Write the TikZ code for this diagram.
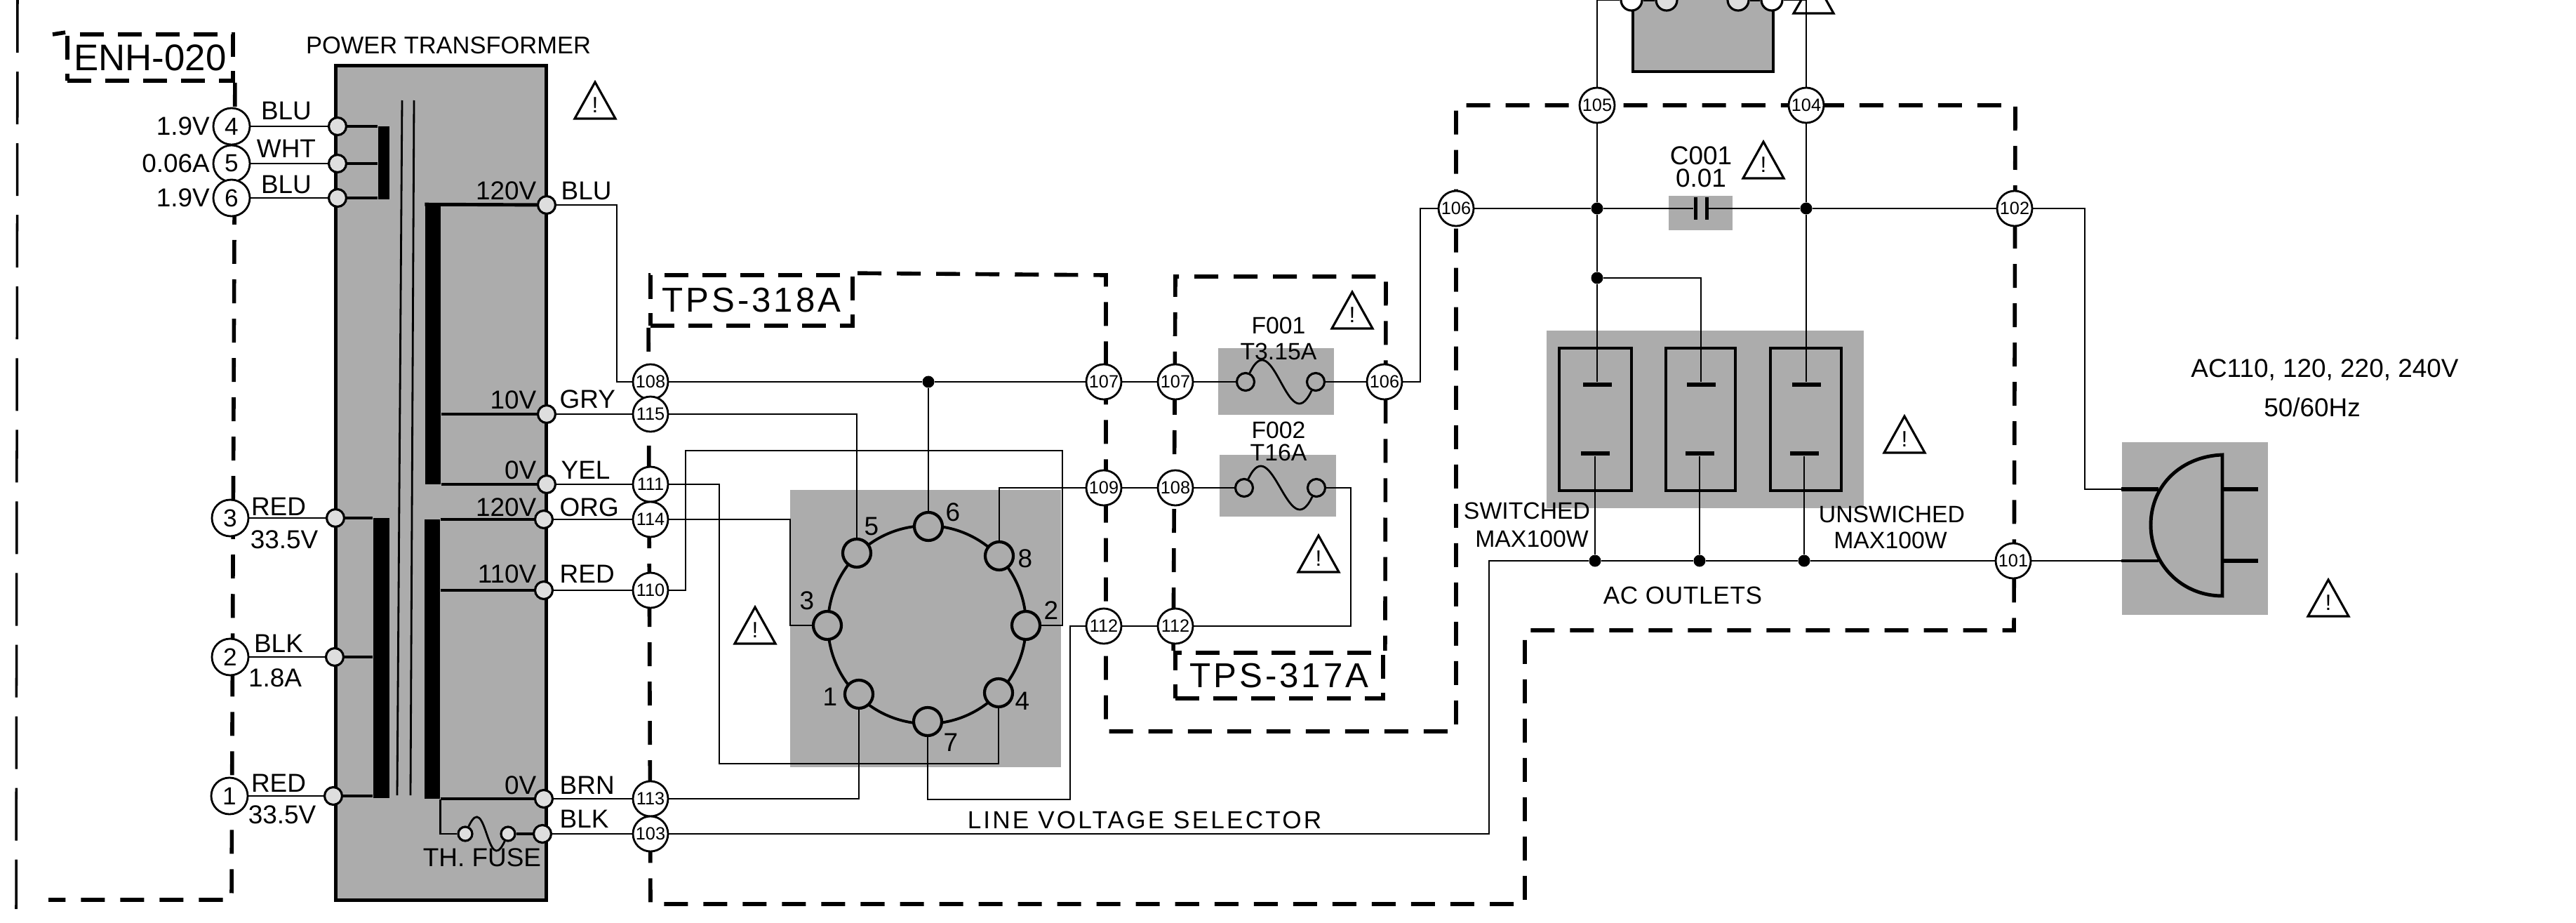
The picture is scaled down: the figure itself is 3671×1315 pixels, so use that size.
\documentclass[tikz,border=0pt]{standalone}
\usepackage{fontspec}
\setmainfont{Liberation Sans}
\usepackage{xcolor}
\usetikzlibrary{positioning, shapes.geometric}
\definecolor{PanelGray}{RGB}{172,172,172}
\definecolor{LugGray}{RGB}{222,222,222}

\begin{document}
\begin{tikzpicture}[
    x=0.01cm, y=-0.01cm,
    panel/.style={rectangle, fill=PanelGray, inner sep=0pt},
    winding/.style={rectangle, fill=black, inner sep=0pt},
    plate/.style={rectangle, fill=black, inner sep=0pt},
    outlet/.style={rectangle, draw=black, line width=1.1pt, minimum width=1pt, minimum height=2.03cm, inner sep=0pt},
    frame/.style={line width=1.6pt, dash pattern=on 0.34cm off 0.22cm},
    outer/.style={line width=1pt, dash pattern=on 0.75cm off 0.27cm},
    tag/.style={rectangle, draw=black, line width=1.6pt, dash pattern=on 0.34cm off 0.2cm, inner sep=0pt},
    wire/.style={line width=0.8pt},
    lead/.style={line width=1.4pt},
    conn/.style={circle, draw=black, fill=white, line width=0.8pt, minimum size=0.5cm, inner sep=0pt, font=\fontsize{7.2}{8}\selectfont},
    bigconn/.style={circle, draw=black, fill=white, line width=0.8pt, minimum size=0.52cm, inner sep=0pt, font=\fontsize{10}{12}\selectfont},
    lug/.style={circle, draw=black, fill=LugGray, line width=0.9pt, minimum size=0.25cm, inner sep=0pt},
    contact/.style={circle, draw=black, fill=PanelGray, line width=1.2pt, minimum size=0.4cm, inner sep=0pt},
    dot/.style={circle, fill=black, minimum size=0.17cm, inner sep=0pt},
    lbl/.style={inner sep=0pt, font=\fontsize{10.5}{12}\selectfont},
    thinlbl/.style={inner sep=0pt, font=\fontsize{9.6}{12}\selectfont},
    boardname/.style={font=\fontsize{14}{16}\selectfont\addfontfeature{LetterSpace=8}},
    caution/.pic={
      \draw [line width=0.9pt, line join=miter, fill=white] (-29,25) -- (29,25) -- (0,-27) -- cycle;
      \node (-mark) [inner sep=0pt, font=\fontsize{9}{10}\selectfont] at (0,6) {!};
    }
  ]
  \useasboundingbox (0,0) rectangle (3671,1315);

  % shaded blocks
  \node (xfmr) [panel, draw=black, line width=1.4pt, minimum width=2.99cm, minimum height=11.88cm] at (628.5,688) {};
  \node (selector) [panel, minimum width=3.86cm, minimum height=3.95cm] at (1319,895.5) {};
  \node (f1panel) [panel, minimum width=1.65cm, minimum height=0.95cm] at (1818.5,543.5) {};
  \node (f2panel) [panel, minimum width=1.66cm, minimum height=0.88cm] at (1821,692) {};
  \node (cappanel) [panel, minimum width=0.91cm, minimum height=0.49cm] at (2423.5,303.5) {};
  \node (outpanel) [panel, minimum width=4.52cm, minimum height=2.53cm] at (2430,597.5) {};
  \node (plugpanel) [panel, minimum width=2.08cm, minimum height=2.46cm] at (3128,753) {};
  \node (toppanel) [panel, minimum width=2.0cm, minimum height=1.04cm] at (2427,50) {};

  % core lines and windings
  \draw [wire] (573,143) -- (566,1133);
  \draw [wire] (590,143) -- (585,1133);
  \node (prim1) [winding, minimum width=0.16cm, minimum height=1.04cm] at (547,232) {};
  \node (prim2) [winding, minimum width=0.23cm, minimum height=3.99cm] at (543.5,937.5) {};
  \node (sec1) [winding, minimum width=0.22cm, minimum height=3.98cm] at (617,491) {};
  \node (sec2) [winding, minimum width=0.22cm, minimum height=3.98cm] at (616,939) {};

  % boards
  \draw [outer] (25,0) -- (23,1295);
  \node (enh) [tag, minimum width=2.36cm, minimum height=0.66cm, font=\fontsize{15}{18}\selectfont] at (214,82) {ENH-020};
  \draw [frame] (enh.north west) -- (75,49);
  \draw [frame] (enh.south east) -- (330,1282) -- (69,1282);
  \node (tps318) [tag, boardname, minimum width=2.88cm, minimum height=0.72cm] at (1071,428) {TPS-318A};
  \draw [frame] (tps318.south west) -- (927,1288) -- (2173,1288) -- (2173,898) -- (2870,898) -- (2872,150) -- (2075,150) -- (2075,1042) -- (1576,1042) -- (1576,392) -- (tps318.north east);
  \node (tps317) [tag, boardname, minimum width=2.96cm, minimum height=0.65cm] at (1823,962.5) {TPS-317A};
  \draw [frame] (tps317.north west) -- (1675,394) -- (1975,394) -- (tps317.north east);

  % transformer primary side
  \node (c4) [bigconn] at (330,180) {4};
  \node (c5) [bigconn] at (330,233) {5};
  \node (c6) [bigconn] at (330,282) {6};
  \node (c3) [bigconn] at (328,738) {3};
  \node (c2) [bigconn] at (328,936) {2};
  \node (c1) [bigconn] at (327,1134) {1};
  \node (lug4) [lug] at (481,180) {};
  \node (lug5) [lug] at (481,233) {};
  \node (lug6) [lug] at (481,282) {};
  \node (lug3) [lug] at (478,738) {};
  \node (lug2) [lug] at (477,936) {};
  \node (lug1) [lug] at (475,1134) {};
  \draw [wire] (c4) -- (lug4);
  \draw [wire] (c5) -- (lug5);
  \draw [wire] (c6) -- (lug6);
  \draw [wire] (c3) -- (lug3);
  \draw [wire] (c2) -- (lug2);
  \draw [wire] (c1) -- (lug1);
  \draw [lead] (lug4) -- (lug4 -| prim1.west);
  \draw [lead] (lug5) -- (lug5 -| prim1.west);
  \draw [lead] (lug6) -- (lug6 -| prim1.west);
  \draw [lead] (lug3) -- (lug3 -| prim2.west);
  \draw [lead] (lug2) -- (lug2 -| prim2.west);
  \draw [lead] (lug1) -- (lug1 -| prim2.west);

  \node (v4) [lbl, left=0.03cm of c4] {1.9V};
  \node (v5) [lbl, left=0.03cm of c5] {0.06A};
  \node (v6) [lbl, left=0.03cm of c6] {1.9V};
  \node (w4) [lbl] at (408,158) {BLU};
  \node (w5) [lbl] at (408,212) {WHT};
  \node (w6) [lbl] at (408,263) {BLU};
  \node (w3) [lbl] at (397,722) {RED};
  \node (v3) [lbl] at (405,769) {33.5V};
  \node (w2) [lbl] at (397,917) {BLK};
  \node (v2) [lbl] at (392,966) {1.8A};
  \node (w1) [lbl] at (397,1116) {RED};
  \node (v1) [lbl] at (402,1161) {33.5V};
  \node (ptitle) [lbl, font=\fontsize{9.8}{12}\selectfont] at (639,65) {POWER TRANSFORMER};

  % transformer secondary side
  \node (lugA) [lug] at (779,292) {};
  \node (lugB) [lug] at (779,590) {};
  \node (lugC) [lug] at (779,690) {};
  \node (lugD) [lug] at (775,740) {};
  \node (lugE) [lug] at (775,841) {};
  \node (lugF) [lug] at (775,1138) {};
  \node (lugG) [lug] at (773,1188) {};
  \node (lugTa) [lug, minimum size=0.2cm] at (663,1188) {};
  \node (lugTb) [lug, minimum size=0.2cm] at (724,1188) {};
  \draw [lead] (sec1.north west) -- (lugA);
  \draw [lead] (lugB -| sec1.east) -- (lugB);
  \draw [lead] (lugC -| sec1.east) -- (lugC);
  \draw [lead] (lugD -| sec2.east) -- (lugD);
  \draw [lead] (lugE -| sec2.east) -- (lugE);
  \draw [lead] (lugF -| sec2.east) -- (lugF);
  \draw [wire] (sec2.south east) |- (lugTa);
  \draw [wire] (lugTa) .. controls +(30,-65) and +(-30,65) .. (lugTb);
  \draw [lead] (lugTb) -- (lugG);
  \node (fusetxt) [lbl] at (687,1222) {TH. FUSE};

  \node (t120a) [lbl, anchor=east] at (765,272) {120V};
  \node (t10) [lbl, anchor=east] at (765,570) {10V};
  \node (t0a) [lbl, anchor=east] at (765,670) {0V};
  \node (t120b) [lbl, anchor=east] at (765,723) {120V};
  \node (t110) [lbl, anchor=east] at (765,818) {110V};
  \node (t0b) [lbl, anchor=east] at (765,1119) {0V};
  \node (wA) [lbl, anchor=west] at (799,272) {BLU};
  \node (wB) [lbl, anchor=west] at (797,569) {GRY};
  \node (wC) [lbl, anchor=west] at (799,670) {YEL};
  \node (wD) [lbl, anchor=west] at (797,723) {ORG};
  \node (wE) [lbl, anchor=west] at (797,818) {RED};
  \node (wF) [lbl, anchor=west] at (797,1119) {BRN};
  \node (wG) [lbl, anchor=west] at (797,1167) {BLK};

  % TPS-318A connectors and selector
  \node (c108a) [conn] at (927,544) {108};
  \node (c115) [conn] at (927,590) {115};
  \node (c111) [conn] at (927,690) {111};
  \node (c114) [conn] at (927,740) {114};
  \node (c110) [conn] at (927,841) {110};
  \node (c113) [conn] at (927,1138) {113};
  \node (c103) [conn] at (927,1188) {103};
  \node (c107a) [conn] at (1573,544) {107};
  \node (c109) [conn] at (1573,695) {109};
  \node (c112a) [conn] at (1573,892) {112};
  \draw [wire] (lugA) -| (879,544) -- (c108a);
  \draw [wire] (lugB) -- (c115);
  \draw [wire] (lugC) -- (c111);
  \draw [wire] (lugD) -- (c114);
  \draw [wire] (lugE) -- (c110);
  \draw [wire] (lugF) -- (c113);
  \draw [wire] (lugG) -- (c103);

  \node (ring) [circle, draw=black, line width=1.1pt, fill=PanelGray, minimum size=2.82cm, inner sep=0pt] at (1321,890) {};
  \node (s1) [contact] at (1224,989) {};
  \node (s2) [contact] at (1462,891) {};
  \node (s3) [contact] at (1179,891) {};
  \node (s4) [contact] at (1423,987) {};
  \node (s5) [contact] at (1221,788) {};
  \node (s6) [contact] at (1323,750) {};
  \node (s7) [contact] at (1322,1028) {};
  \node (s8) [contact] at (1424,792) {};
  \node (n1) [lbl] at (1183,993) {1};
  \node (n2) [lbl] at (1498,870) {2};
  \node (n3) [lbl] at (1150,856) {3};
  \node (n4) [lbl] at (1457,999) {4};
  \node (n5) [lbl] at (1242,750) {5};
  \node (n6) [lbl] at (1358,730) {6};
  \node (n7) [lbl] at (1355,1058) {7};
  \node (n8) [lbl] at (1461,796) {8};
  \node (j6) [dot] at (1323,544) {};

  \draw [wire] (c108a) -- (j6);
  \draw [wire] (j6) -- (c107a);
  \draw [wire] (j6) -- (s6);
  \draw [wire] (c115) -| (s5);
  \draw [wire] (c110) -| (977,642) -- (1514,642) |- (s2);
  \draw [wire] (c111) -| (1025,1088) -| (s4);
  \draw [wire] (c114) -| (1126,891) -- (s3);
  \draw [wire] (c113) -| (s1);
  \draw [wire] (s8) |- (c109);
  \draw [wire] (s7) |- (1525,1139) |- (c112a);
  \node (sellbl) [lbl, font=\fontsize{10}{12}\selectfont\addfontfeature{LetterSpace=9}] at (1631,1168) {LINE VOLTAGE SELECTOR};

  % TPS-317A fuses
  \node (c107b) [conn] at (1675,544) {107};
  \node (c108b) [conn] at (1675,695) {108};
  \node (c112b) [conn] at (1675,892) {112};
  \node (c106a) [conn] at (1973,544) {106};
  \node (f1a) [lug, fill=PanelGray] at (1775,544) {};
  \node (f1b) [lug, fill=PanelGray] at (1875,544) {};
  \node (f2a) [lug, fill=PanelGray] at (1773,695) {};
  \node (f2b) [lug, fill=PanelGray] at (1876,695) {};
  \node (f1name) [thinlbl] at (1822,464) {F001};
  \node (f1val) [thinlbl] at (1822,501) {T3.15A};
  \node (f2name) [thinlbl] at (1822,613) {F002};
  \node (f2val) [thinlbl] at (1822,645) {T16A};
  \draw [wire] (c107a) -- (c107b);
  \draw [wire] (c109) -- (c108b);
  \draw [wire] (c112a) -- (c112b);
  \draw [wire] (c107b) -- (f1a);
  \draw [wire] (c108b) -- (f2a);
  \draw [wire] (f1a) .. controls +(40,-85) and +(-40,85) .. (f1b);
  \draw [wire] (f2a) .. controls +(40,-85) and +(-40,85) .. (f2b);
  \draw [wire] (f1b) -- (c106a);
  \draw [wire] (f2b) -| (1925,892) -- (c112b);

  % AC outlets
  \node (c106b) [conn] at (2075,297) {106};
  \node (c105) [conn] at (2276,150) {105};
  \node (c104) [conn] at (2574,150) {104};
  \node (c102) [conn] at (2871,297) {102};
  \node (c101) [conn] at (2869,799) {101};
  \node (outA) [outlet, minimum width=1.03cm] at (2273.5,597.5) {};
  \node (outB) [outlet, minimum width=0.99cm] at (2423.5,597.5) {};
  \node (outC) [outlet, minimum width=1.01cm] at (2573.5,597.5) {};
  \node (plA1) [plate, minimum width=0.41cm, minimum height=0.06cm] at (2276,548) {};
  \node (plB1) [plate, minimum width=0.41cm, minimum height=0.06cm] at (2424,548) {};
  \node (plC1) [plate, minimum width=0.41cm, minimum height=0.06cm] at (2574,548) {};
  \node (plA2) [plate, minimum width=0.41cm, minimum height=0.06cm] at (2273,646) {};
  \node (plB2) [plate, minimum width=0.41cm, minimum height=0.06cm] at (2422,646) {};
  \node (plC2) [plate, minimum width=0.41cm, minimum height=0.06cm] at (2571,646) {};
  \node (j1) [dot] at (2276,297) {};
  \node (j2) [dot] at (2276,396) {};
  \node (j3) [dot] at (2574,297) {};
  \node (jA) [dot] at (2273,799) {};
  \node (jB) [dot] at (2422,799) {};
  \node (jC) [dot] at (2571,799) {};
  \node (capL) [plate, minimum width=0.05cm, minimum height=0.32cm] at (2416,297) {};
  \node (capR) [plate, minimum width=0.05cm, minimum height=0.32cm] at (2432,297) {};
  \draw [wire] (c106a) -| (2024,297) -- (c106b);
  \draw [wire] (c106b) -- (j1);
  \draw [wire] (j1) -- (capL);
  \draw [wire] (capR) -- (j3);
  \draw [wire] (j3) -- (c102);
  \draw [wire] (c105) -- (j1);
  \draw [wire] (j1) -- (j2);
  \draw [wire] (j2) -- (plA1);
  \draw [wire] (j2) -| (plB1);
  \draw [wire] (c104) -- (j3);
  \draw [wire] (j3) -- (plC1);
  \draw [wire] (plA2) -- (jA);
  \draw [wire] (plB2) -- (jB);
  \draw [wire] (plC2) -- (jC);
  \draw [wire] (c103) -| (2122,799) -- (jA);
  \draw [wire] (jA) -- (jB);
  \draw [wire] (jB) -- (jC);
  \draw [wire] (jC) -- (c101);
  \node (capname) [lbl] at (2424,222) {C001};
  \node (capval) [lbl] at (2424,254) {0.01};
  \node (swA) [thinlbl] at (2176,728) {SWITCHED};
  \node (swB) [thinlbl] at (2183,768) {MAX100W};
  \node (usA) [thinlbl] at (2696,733) {UNSWICHED};
  \node (usB) [thinlbl] at (2694,770) {MAX100W};
  \node (aclbl) [lbl, font=\fontsize{10}{12}\selectfont\addfontfeature{LetterSpace=2}] at (2398,848) {AC OUTLETS};

  % block at the top edge
  \draw [lead] (2327,6) |- (2527,102) -- (2527,6);
  \node (topA) [lug, fill=white, minimum size=0.3cm] at (2325,0) {};
  \node (topB) [lug, minimum size=0.3cm] at (2375,0) {};
  \node (topC) [lug, minimum size=0.3cm] at (2477,0) {};
  \node (topD) [lug, fill=white, minimum size=0.3cm] at (2525,0) {};
  \draw [wire] (c105) |- (topA);
  \draw [wire] (c104) |- (topD);
  \draw [lead] (topA) -- (topB);
  \draw [lead] (topC) -- (topD);

  % plug
  \draw [lead, fill=PanelGray] (3167,648) .. controls (3110,650) and (3065,690) .. (3065,748) .. controls (3065,805) and (3110,849) .. (3167,849) -- cycle;
  \coordinate (plugA) at (3076,697);
  \coordinate (plugB) at (3076,799);
  \coordinate (bladeA) at (3167,697);
  \coordinate (bladeB) at (3167,799);
  \coordinate (tipA) at (3218,697);
  \coordinate (tipB) at (3218,799);
  \draw [wire] (c102) -| (2971,697) -- (plugA);
  \draw [wire] (c101) -- (plugB);
  \draw [line width=1.9pt] (plugpanel.west |- plugA) -- (plugA);
  \draw [line width=1.4pt] (plugpanel.west |- plugB) -- (plugB);
  \draw [line width=1.9pt] (bladeA) -- (tipA);
  \draw [line width=1.9pt] (bladeB) -- (tipB);
  \node (mains) [lbl] at (3313,527) {AC110, 120, 220, 240V};
  \node (hz) [lbl] at (3295,580) {50/60Hz};

  % caution marks
  \pic (warnX) at (848,144) {caution};
  \pic (warnS) at (1076,892) {caution};
  \pic (warnF1) at (1927,443) {caution};
  \pic (warnF2) at (1879,790) {caution};
  \pic (warnC) at (2513,229) {caution};
  \pic (warnO) at (2714,620) {caution};
  \pic (warnP) at (3318,853) {caution};
  \draw [line width=0.9pt] (2556,19) -- (2613,19) -- (2585,-31) -- cycle;
\end{tikzpicture}
\end{document}
